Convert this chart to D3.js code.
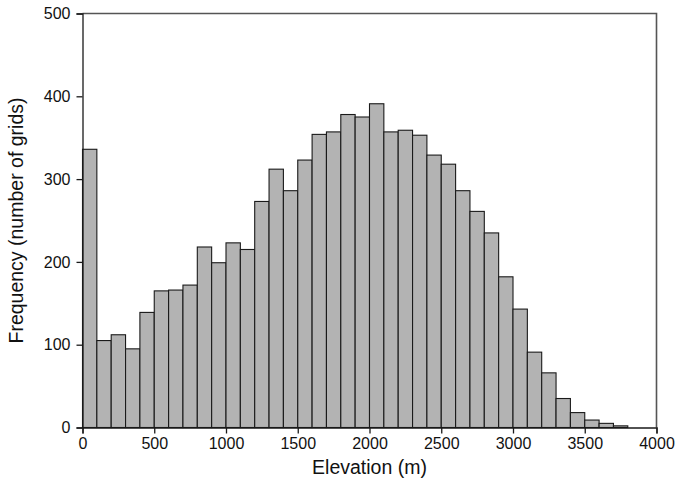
<!DOCTYPE html>
<html>
<head>
<meta charset="utf-8">
<script src="https://cdn.jsdelivr.net/npm/d3@7"></script>
<style>
  body { margin: 0; background: #fff; }
  svg text { font-family: "Liberation Sans", Arial, Helvetica, sans-serif; fill: #111; }
</style>
</head>
<body>
<div id="chart"></div>
<script>
// histogram bins (lower edge, m) and counts
const binStarts = [0, 100, 200, 300, 400, 500, 600, 700, 800, 900,
    1000, 1100, 1200, 1300, 1400, 1500, 1600, 1700, 1800, 1900,
    2000, 2100, 2200, 2300, 2400, 2500, 2600, 2700, 2800, 2900,
    3000, 3100, 3200, 3300, 3400, 3500, 3600, 3700];
const counts = [336, 105, 112, 95, 139, 165, 166, 172, 218, 199,
    223, 215, 273, 312, 286, 323, 354, 357, 378, 375,
    391, 357, 359, 353, 329, 318, 286, 261, 235, 182,
    143, 91, 66, 35, 18, 9, 5, 2];
const binWidth = 100;
const xTicks = [0, 500, 1000, 1500, 2000, 2500, 3000, 3500, 4000];
const yTicks = [0, 100, 200, 300, 400, 500];

const width = 676, height = 480;
const margin = { top: 13.5, right: 19.5, bottom: 52.5, left: 82.5 };
const innerW = width - margin.left - margin.right;
const innerH = height - margin.top - margin.bottom;

const svg = d3.select("#chart").append("svg")
    .attr("width", width)
    .attr("height", height);

const g = svg.append("g")
    .attr("transform", `translate(${margin.left},${margin.top})`);

const x = d3.scaleLinear().domain([0, 4000]).range([0, innerW]);
const y = d3.scaleLinear().domain([0, 500]).range([innerH, 0]);

// frame on top and right
g.append("path")
    .attr("d", `M0,0H${innerW}V${innerH}`)
    .attr("fill", "none")
    .attr("stroke", "#555")
    .attr("stroke-width", 1.6);

const bins = binStarts.map((s, i) => ({ x0: s, x1: s + binWidth, n: counts[i] }));

g.selectAll(".bar")
    .data(bins)
    .enter().append("rect")
    .attr("class", "bar")
    .attr("x", d => x(d.x0))
    .attr("width", d => x(d.x1) - x(d.x0))
    .attr("y", d => y(d.n))
    .attr("height", d => y(0) - y(d.n))
    .attr("fill", "#b3b3b3")
    .attr("stroke", "#1a1a1a")
    .attr("stroke-width", 1.1);

const xAxis = g.append("g")
    .attr("transform", `translate(0,${innerH})`)
    .call(d3.axisBottom(x).tickValues(xTicks).tickFormat(d3.format("d")).tickSize(6).tickPadding(4));

const yAxis = g.append("g")
    .call(d3.axisLeft(y).tickValues(yTicks).tickFormat(d3.format("d")).tickSize(6).tickPadding(6));

[xAxis, yAxis].forEach(a => {
    a.selectAll("path").attr("stroke", "#1a1a1a").attr("stroke-width", 1.3);
    a.selectAll("line").attr("stroke", "#1a1a1a").attr("stroke-width", 1.3);
    a.selectAll("text")
        .style("font-size", "16px")
        .style("font-family", "'Liberation Sans', Arial, sans-serif")
        .attr("fill", "#111");
});

svg.append("text")
    .attr("x", margin.left + innerW / 2)
    .attr("y", 474)
    .attr("text-anchor", "middle")
    .style("font-size", "19.5px")
    .text("Elevation (m)");

svg.append("text")
    .attr("transform", `translate(23,${margin.top + innerH / 2}) rotate(-90)`)
    .attr("text-anchor", "middle")
    .style("font-size", "19.5px")
    .text("Frequency (number of grids)");
</script>
</body>
</html>
